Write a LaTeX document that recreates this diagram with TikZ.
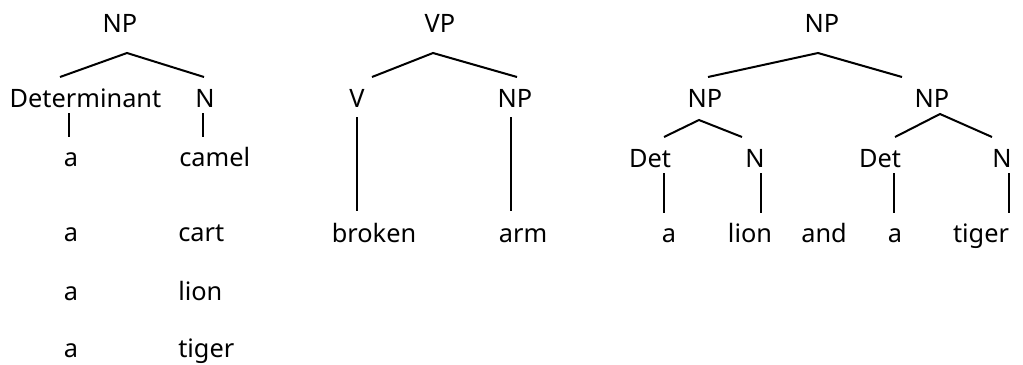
\documentclass[tikz,border=0pt]{standalone}
\usepackage{fontspec}
\setmainfont{Noto Sans}
\begin{document}
\begin{tikzpicture}[x=0.75pt,y=-0.75pt,
  lbl/.style={inner sep=0pt,anchor=base,font=\fontsize{19}{21}\selectfont},
  lblw/.style={lbl,anchor=base west},
  branch/.style={line width=1.5pt,line cap=butt}]
\useasboundingbox (0,0) rectangle (1023,364);

% ---- left tree: NP -> Determinant N, with word pairs
\node[lbl] (np1) at (120,32) {NP};
\node[lbl] (det1) at (85.5,107) {Determinant};
\node[lbl] (n1) at (205,107) {N};
\node[lbl] (a1) at (71,166) {a};
\node[lblw] (w1) at (179,166) {camel};
\node[lbl] (a2) at (71,241) {a};
\node[lblw] (w2) at (178,241) {cart};
\node[lbl] (a3) at (71,300) {a};
\node[lblw] (w3) at (178,300) {lion};
\node[lbl] (a4) at (71,357) {a};
\node[lblw] (w4) at (178,357) {tiger};
\coordinate (np1-b) at (127,53);
\coordinate (det1-t) at (60,77);
\coordinate (n1-t) at (204,77);
\coordinate (det1-b) at (69,113);
\coordinate (a1-t) at (69,137);
\coordinate (n1-b) at (203,113);
\coordinate (w1-t) at (203,137);
\draw[branch] (det1-t) -- (np1-b) -- (n1-t);
\draw[branch] (det1-b) -- (a1-t);
\draw[branch] (n1-b) -- (w1-t);

% ---- middle tree: VP -> V NP
\node[lbl] (vp) at (440,32) {VP};
\node[lbl] (v) at (357,107) {V};
\node[lbl] (np2) at (515,107) {NP};
\node[lbl] (broken) at (374,242) {broken};
\node[lbl] (arm) at (523,242) {arm};
\coordinate (vp-b) at (433,53);
\coordinate (v-t) at (372,77);
\coordinate (np2-t) at (517,77);
\coordinate (v-b) at (357,117);
\coordinate (broken-t) at (357,211);
\coordinate (np2-b) at (511,117);
\coordinate (arm-t) at (511,211);
\draw[branch] (v-t) -- (vp-b) -- (np2-t);
\draw[branch] (v-b) -- (broken-t);
\draw[branch] (np2-b) -- (arm-t);

% ---- right tree: coordinated NP
\node[lbl] (np3) at (822,32) {NP};
\node[lbl] (npl) at (705,107) {NP};
\node[lbl] (npr) at (932,107) {NP};
\node[lbl] (detl) at (650,167) {Det};
\node[lbl] (nl) at (755,167) {N};
\node[lbl] (detr) at (880,167) {Det};
\node[lbl] (nr) at (1002,167) {N};
\node[lbl] (wa1) at (669,242) {a};
\node[lbl] (wlion) at (750,242) {lion};
\node[lbl] (wand) at (824,242) {and};
\node[lbl] (wa2) at (895,242) {a};
\node[lbl] (wtiger) at (981,242) {tiger};
\coordinate (np3-b) at (818,53);
\coordinate (npl-t) at (708,77);
\coordinate (npr-t) at (902,77);
\coordinate (npl-b) at (699,120);
\coordinate (detl-t) at (664,137);
\coordinate (nl-t) at (742,137);
\coordinate (npr-b) at (940,114);
\coordinate (detr-t) at (895,137);
\coordinate (nr-t) at (992,137);
\draw[branch] (npl-t) -- (np3-b) -- (npr-t);
\draw[branch] (detl-t) -- (npl-b) -- (nl-t);
\draw[branch] (detr-t) -- (npr-b) -- (nr-t);
\coordinate (detl-b) at (664,173);
\coordinate (wa1-t) at (664,213);
\coordinate (nl-b) at (761,173);
\coordinate (wlion-t) at (761,213);
\coordinate (detr-b) at (894,173);
\coordinate (wa2-t) at (894,213);
\coordinate (nr-b) at (1009,173);
\coordinate (wtiger-t) at (1009,213);
\draw[branch] (detl-b) -- (wa1-t);
\draw[branch] (nl-b) -- (wlion-t);
\draw[branch] (detr-b) -- (wa2-t);
\draw[branch] (nr-b) -- (wtiger-t);
\end{tikzpicture}
\end{document}
